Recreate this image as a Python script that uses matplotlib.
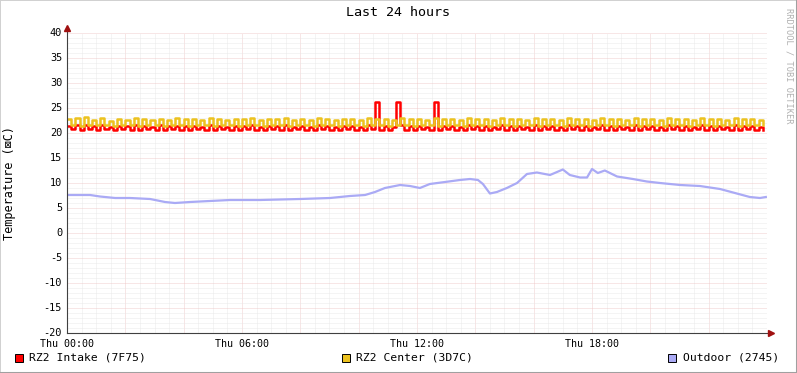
import numpy as np
import matplotlib
matplotlib.use("Agg")
import matplotlib.pyplot as plt
from matplotlib.lines import Line2D
from matplotlib.patches import Rectangle

# samples every 1/7 hour (about 8.5 min), 14 per row = 2 hours
step_h = 1.0 / 7.0

center = [
    22.9, 21.6, 23.1, 21.5, 23.3, 21.7, 22.7, 21.6, 23.1, 21.7, 22.5, 21.5, 22.9, 21.6,
    22.7, 21.7, 23.0, 21.5, 22.8, 21.7, 22.6, 21.6, 22.9, 21.5, 22.7, 21.7, 23.0, 21.6,
    22.8, 21.5, 22.9, 21.7, 22.7, 21.6, 23.0, 21.5, 22.8, 21.7, 22.7, 21.6, 22.9, 21.5,
    22.8, 21.7, 23.0, 21.6, 22.7, 21.5, 22.9, 21.7, 22.8, 21.6, 23.0, 21.5, 22.7, 21.7,
    22.9, 21.6, 22.7, 21.5, 23.0, 21.7, 22.8, 21.6, 22.7, 21.5, 22.9, 21.7, 22.8, 21.6,
    22.7, 21.5, 23.0, 21.7, 22.8, 21.6, 22.9, 21.5, 22.7, 21.7, 23.0, 21.6, 22.8, 21.5,
    22.9, 21.7, 22.7, 21.6, 23.0, 21.5, 22.8, 21.7, 22.9, 21.6, 22.7, 21.5, 23.0, 21.7,
    22.8, 21.6, 22.9, 21.5, 22.7, 21.7, 23.0, 21.6, 22.8, 21.5, 22.9, 21.7, 22.7, 21.6,
    23.0, 21.5, 22.8, 21.7, 22.9, 21.6, 22.7, 21.5, 23.0, 21.7, 22.8, 21.6, 22.9, 21.5,
    22.7, 21.7, 23.0, 21.6, 22.8, 21.5, 22.9, 21.7, 22.7, 21.6, 23.0, 21.5, 22.8, 21.7,
    22.9, 21.6, 22.7, 21.5, 23.0, 21.7, 22.8, 21.6, 22.9, 21.5, 22.7, 21.7, 23.0, 21.6,
    22.8, 21.5, 22.9, 21.7, 22.7, 21.6, 23.0, 21.5, 22.8, 21.7, 22.9, 21.6, 22.7, 21.7,
]

intake = [
    21.5, 20.8, 21.6, 20.7, 21.6, 20.8, 21.4, 20.6, 21.6, 20.8, 21.3, 20.7, 21.5, 20.8,
    21.4, 20.7, 21.6, 20.6, 21.5, 20.8, 21.3, 20.7, 21.6, 20.6, 21.4, 20.8, 21.5, 20.7,
    21.4, 20.6, 21.5, 20.8, 21.3, 20.7, 21.6, 20.6, 21.4, 20.8, 21.3, 20.7, 21.5, 20.6,
    21.4, 20.8, 21.6, 20.7, 21.3, 20.6, 21.5, 20.8, 21.4, 20.7, 21.6, 20.6, 21.3, 20.8,
    21.5, 20.7, 21.3, 20.6, 21.6, 20.8, 21.4, 20.7, 21.3, 20.6, 21.5, 20.8, 21.4, 20.7,
    21.3, 20.6, 21.6, 20.8, 26.2, 20.7, 21.5, 20.6, 21.3, 26.2, 21.6, 20.7, 21.4, 20.6,
    21.5, 20.8, 21.3, 20.7, 26.2, 20.6, 21.4, 20.8, 21.5, 20.7, 21.3, 20.6, 21.6, 20.8,
    21.4, 20.7, 21.5, 20.6, 21.3, 20.8, 21.6, 20.7, 21.4, 20.6, 21.5, 20.8, 21.3, 20.7,
    21.6, 20.6, 21.4, 20.8, 21.5, 20.7, 21.3, 20.6, 21.6, 20.8, 21.4, 20.7, 21.5, 20.6,
    21.3, 20.8, 21.6, 20.7, 21.4, 20.6, 21.5, 20.8, 21.3, 20.7, 21.6, 20.6, 21.4, 20.8,
    21.5, 20.7, 21.3, 20.6, 21.6, 20.8, 21.4, 20.7, 21.5, 20.6, 21.3, 20.8, 21.6, 20.7,
    21.4, 20.6, 21.5, 20.8, 21.3, 20.7, 21.6, 20.6, 21.4, 20.8, 21.5, 20.7, 21.3, 20.6,
]

outdoor_h = [0.0, 0.79, 1.13, 1.65, 2.16, 2.85, 3.36, 3.70, 4.22, 4.90, 5.59, 6.62,
             7.99, 9.02, 9.70, 10.22, 10.56, 10.90, 11.42, 11.76, 12.10, 12.44, 12.96,
             13.47, 13.82, 14.09, 14.26, 14.50, 14.74, 15.08, 15.43, 15.77, 16.11,
             16.56, 17.00, 17.24, 17.59, 17.83, 18.00, 18.20, 18.44, 18.86, 19.40,
             19.88, 20.33, 21.02, 21.70, 22.39, 22.90, 23.41, 23.76, 23.96]
outdoor = [7.6, 7.6, 7.3, 7.0, 7.0, 6.8, 6.2, 6.0, 6.2, 6.4, 6.6, 6.6,
           6.8, 7.0, 7.4, 7.6, 8.2, 9.0, 9.6, 9.4, 9.0, 9.8, 10.2,
           10.6, 10.8, 10.6, 9.8, 7.9, 8.2, 9.0, 10.0, 11.8, 12.1,
           11.6, 12.7, 11.6, 11.1, 11.1, 12.8, 12.0, 12.5, 11.3, 10.8,
           10.3, 10.0, 9.6, 9.4, 8.8, 8.0, 7.2, 7.0, 7.2]

x_labels = ["Thu 00:00", "Thu 06:00", "Thu 12:00", "Thu 18:00"]
y_labels = list(range(-20, 45, 5))

legend_names = ["RZ2 Intake (7F75)", "RZ2 Center (3D7C)", "Outdoor (2745)"]
colors = ["#FF0000", "#ECC21F", "#AAAAF5"]

mono = ["DejaVu Sans Mono", "DejaVu Sans"]
W, H = 797, 373

fig = plt.figure(figsize=(W / 100, H / 100), dpi=100, facecolor="white")
ax = fig.add_axes([67 / W, 40 / H, 700 / W, 300 / H])
ax.set_xlim(0, 24)
ax.set_ylim(-20, 40)
for s in ax.spines.values():
    s.set_visible(False)

# grid
ax.set_xticks(np.arange(0, 24.01, 0.5), minor=True)
ax.set_yticks(np.arange(-20, 40.01, 1), minor=True)
ax.set_xticks(np.arange(0, 24.01, 2))
ax.set_yticks(np.arange(-20, 40.01, 5))
ax.grid(True, which="minor", color="#E6E6E6", lw=0.6, linestyle=(0, (1.2, 1.2)))
ax.grid(True, which="major", color="#EEC4C4", lw=0.6, linestyle=(0, (1.2, 1.2)))
ax.set_axisbelow(True)
ax.tick_params(which="both", length=0, labelbottom=False, labelleft=False)

t_c = np.arange(len(center)) * step_h
t_i = np.arange(len(intake)) * step_h
ax.plot(t_i, intake, color=colors[0], lw=1.8, drawstyle="steps-post", zorder=3)
ax.plot(t_c, center, color=colors[1], lw=1.8, drawstyle="steps-post", zorder=4)
ax.plot(outdoor_h, outdoor, color=colors[2], lw=1.6, zorder=5)

# tick labels
for v in y_labels:
    ax.text(-0.17, v, str(v), ha="right", va="center", fontsize=7.4,
            family=mono, color="#000000")
for i, lab in enumerate(x_labels):
    ax.text(i * 6, -21.2, lab, ha="center", va="top", fontsize=7.2,
            family=mono, color="#000000")

# axis lines with arrows
ax.plot([0, 24.15], [-20, -20], color="#404040", lw=0.8, clip_on=False, zorder=6)
ax.plot([0, 0], [-20, 41.0], color="#404040", lw=0.8, clip_on=False, zorder=6)
ax.plot([24.15], [-20], marker=">", color="#A01010", ms=4, clip_on=False, zorder=7)
ax.plot([0], [41.0], marker="^", color="#A01010", ms=4, clip_on=False, zorder=7)

# texts
fig.text(398 / W, 1 - 13 / H, "Last 24 hours", ha="center", va="center",
         fontsize=9.6, family=mono)
fig.text(10 / W, 1 - 183 / H, "Temperature (\u22a0C)", ha="center", va="center",
         rotation=90, fontsize=8.6, family=mono)
fig.text(789 / W, 1 - 8 / H, "RRDTOOL / TOBI OETIKER", ha="center", va="top",
         rotation=270, fontsize=6.2, family=mono, color="#B0B0B0")

# legend
sq_x = [15, 342, 668]
txt_x = [29, 356, 683]
for sx, tx, name, c in zip(sq_x, txt_x, legend_names, colors):
    fig.add_artist(Rectangle((sx / W, 1 - 362 / H), 8 / W, 8 / H,
                             transform=fig.transFigure, facecolor=c,
                             edgecolor="black", lw=0.7))
    fig.text(tx / W, 1 - 358 / H, name, ha="left", va="center",
             fontsize=8.2, family=mono)

# frame / shadow
fig.add_artist(Line2D([0, 0], [0, 1], transform=fig.transFigure, color="#D0D0D0", lw=1.4))
fig.add_artist(Line2D([0, 1], [1, 1], transform=fig.transFigure, color="#D0D0D0", lw=1.4))
fig.add_artist(Line2D([0, 1], [0.5 / H, 0.5 / H], transform=fig.transFigure,
                      color="#A0A0A0", lw=2.2))
fig.add_artist(Line2D([1 - 0.5 / W, 1 - 0.5 / W], [0, 1], transform=fig.transFigure,
                      color="#A0A0A0", lw=2.2))

fig.savefig("out.png", dpi=100, facecolor="white")
